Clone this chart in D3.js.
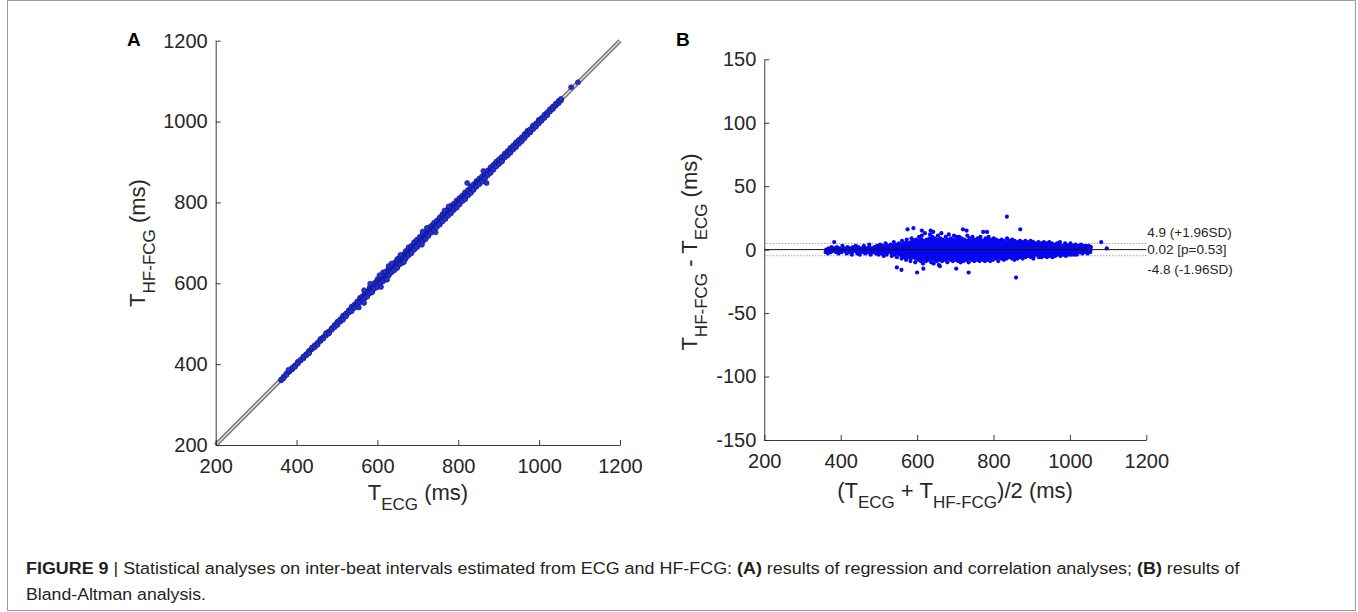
<!DOCTYPE html>
<html><head><meta charset="utf-8">
<script src="https://cdn.jsdelivr.net/npm/d3@7"></script>
<style>body{margin:0;background:#fff}svg{display:block}</style>
</head><body><svg id="c" width="1358" height="612"></svg>
<script>
// ---- data ----
const axisTicks = [200, 400, 600, 800, 1000, 1200];
const diffTicks = [-150, -100, -50, 0, 50, 100, 150];
const identityLine = [200, 1200];
const meanDiff = 0.02, upperLoA = 4.9, lowerLoA = -4.8;
const loaLabels = ["4.9 (+1.96SD)", "0.02 [p=0.53]", "-4.8 (-1.96SD)"];
// dense part of the cloud: [ECG interval (ms), differences HF-FCG - ECG (ms)]
const cloudColumns = [
 [362,[-2,0]],[368,[-1,1,-3]],[375,[0,2,-2]],[382,[-1,1]],[389,[-2,0,2]],[396,[-1,1,-3]],
 [403,[0,3,-2]],[410,[-1,1]],[417,[-3,0,2]],[424,[-1,1,-2]],
 [431,[0,2,-2,-4]],[438,[-1,1,3]],[445,[-2,0,2,-3]],[452,[-1,1,-4]],[459,[0,2,-2,3]],
 [466,[-1,1,-3]],[473,[0,2,-2,4]],[480,[-1,1,-3,-4]],[487,[0,2,-2]],[494,[-1,1,3,-3]],
 [501,[0,2,-2,-4,4]],[508,[-1,1,-3,3]],[515,[0,2,-2,5,-5]],[522,[-1,1,-3,3,-4]],[529,[0,2,-2,4]],
 [536,[-1,1,-3,3,-5,6]],[543,[0,2,-2,4,-4]],[550,[-1,1,-3,3,-6,5]],[557,[0,2,-2,4,-4,7]],
 [563,[-1,1,-3,3,-5,5,-7]],[569,[0,2,-2,4,-4,6,-6,8]],[575,[-1,1,-3,3,-5,5,-8]],
 [581,[0,2,-2,4,-4,6,-6,9]],[587,[-1,1,-3,3,-5,5,-7,7,-9]],[593,[0,2,-2,4,-4,6,-6,8]],
 [600,[-1,1,-3,3,-5,5,-7,7,-10,10]],[607,[0,2,-2,4,-4,6,-6,8,-8,11]],[614,[-1,1,-3,3,-5,5,-7,7,-9,13]],
 [621,[0,2,-2,4,-4,6,-6,8,-8,-11]],[628,[-1,1,-3,3,-5,5,-7,7,-9,9,12]],[635,[0,2,-2,4,-4,6,-6,8,-8,10]],
 [642,[-1,1,-3,3,-5,5,-7,7,-10,9]],[649,[0,2,-2,4,-4,6,-6,8,-8,11,-11]],[656,[-1,1,-3,3,-5,5,-7,7,-9,9]],
 [663,[0,2,-2,4,-4,6,-6,8,-8,-12]],[670,[-1,1,-3,3,-5,5,-7,7,-9,10]],[677,[0,2,-2,4,-4,6,-6,8,-8,12]],
 [684,[-1,1,-3,3,-5,5,-7,7,-10,9]],[691,[0,2,-2,4,-4,6,-6,8,-8,11]],[698,[-1,1,-3,3,-5,5,-7,7,-9,10]],
 [705,[0,2,-2,4,-4,6,-6,8,-8,10]],[712,[-1,1,-3,3,-5,5,-7,7,-9,9]],[719,[0,2,-2,4,-4,6,-6,8,-8,-10]],
 [726,[-1,1,-3,3,-5,5,-7,7,-9,11]],[733,[0,2,-2,4,-4,6,-6,8,-8,9]],[740,[-1,1,-3,3,-5,5,-7,7,-10,10]],
 [747,[0,2,-2,4,-4,6,-6,8,-8]],[754,[-1,1,-3,3,-5,5,-7,7,-9,9]],[761,[0,2,-2,4,-4,6,-6,8,-8,10]],
 [768,[-1,1,-3,3,-5,5,-7,7,-9]],[775,[0,2,-2,4,-4,6,-6,8,-8,9]],[782,[-1,1,-3,3,-5,5,-7,7,-9,10]],
 [789,[0,2,-2,4,-4,6,-6,8,-8]],[796,[-1,1,-3,3,-5,5,-7,7,-9,9]],
 [803,[0,2,-2,4,-4,6,-6,8,-8]],[810,[-1,1,-3,3,-5,5,-7,7]],[817,[0,2,-2,4,-4,6,-6,8,-9]],
 [824,[-1,1,-3,3,-5,5,-7,7]],[831,[0,2,-2,4,-4,6,-6,9,-8]],[838,[-1,1,-3,3,-5,5,-7,7]],
 [845,[0,2,-2,4,-4,6,-6,8]],[852,[-1,1,-3,3,-5,5,-7,7]],[859,[0,2,-2,4,-4,6,-6,-8]],
 [866,[-1,1,-3,3,-5,5,-7,7]],[873,[0,2,-2,4,-4,6,-6]],
 [880,[-1,1,-3,3,-5,5,-7,7]],[887,[0,2,-2,4,-4,6,-6]],[894,[-1,1,-3,3,-5,5,7]],[901,[0,2,-2,4,-4,6,-6]],
 [908,[-1,1,-3,3,-5,5,-7]],[915,[0,2,-2,4,-4,6]],[922,[-1,1,-3,3,-5,5,-6]],[929,[0,2,-2,4,-4,6,-6]],
 [936,[-1,1,-3,3,-5,5]],[943,[0,2,-2,4,-4,6,-6]],[950,[-1,1,-3,3,-5,5]],[957,[0,2,-2,4,-4,-6]],
 [964,[-1,1,-3,3,-5,5]],[971,[0,2,-2,4,-4,6]],[978,[-1,1,-3,3,-5]],[985,[0,2,-2,4,-4,5]],
 [992,[-1,1,-3,3,-5]],[999,[0,2,-2,4,-4,5]],[1006,[-1,1,-3,3,-4]],[1013,[0,2,-2,4,-4]],
 [1020,[-1,1,-3,3,-4]],[1027,[0,2,-2,4]],[1034,[-1,1,-3,3]],[1041,[0,2,-2,3]],[1048,[-1,1,-3,3]],[1054,[0,-2,2]]
];
// isolated beats: [ECG interval (ms), difference (ms)]
const outlierBeats = [
 [380,6],[554,-14],[567,-16],[567,16],[582,17],[605,15],[609,-18],[624,-15],[628,15],[635,14],
 [657,13],[666,-13],[710,-15],[712,16],[722,15],[744,-18],[766,14],[776,14],[822,26],[862,16],
 [870,-22],[1079,6],[1096,1]
];

// ---- build ----
const beats = [];
cloudColumns.forEach(([e, ds]) => ds.forEach(d => beats.push({ecg: e, diff: d})));
outlierBeats.forEach(([e, d]) => beats.push({ecg: e, diff: d}));

const svg = d3.select("#c");
const FONT = "'Liberation Sans', Arial, Helvetica, sans-serif";
const AX = "#262626";
const fmt = d => String(d);

svg.append("rect").attr("x", 7.5).attr("y", 0.5).attr("width", 1348).attr("height", 610)
  .attr("fill", "none").attr("stroke", "#9a9a9a").attr("stroke-width", 1);

// Panel A scales
const xA = d3.scaleLinear().domain([200, 1200]).range([215.7, 620]);
const yA = d3.scaleLinear().domain([200, 1200]).range([445, 40.7]);
// Panel B scales
const xB = d3.scaleLinear().domain([200, 1200]).range([764.3, 1146.3]);
const yB = d3.scaleLinear().domain([-150, 150]).range([440, 59.3]);

function styleAxis(g) {
  g.selectAll("path.domain").attr("stroke", AX).attr("stroke-width", 0.9);
  g.selectAll(".tick line").attr("stroke", AX).attr("stroke-width", 0.9);
  g.selectAll(".tick text").attr("fill", AX).attr("font-family", FONT).attr("font-size", 20);
}

// ---- Panel A ----
const gA = svg.append("g");
const lineA = d3.line().x(v => xA(v)).y(v => yA(v));
gA.append("path").attr("d", lineA(identityLine)).attr("stroke", "#777").attr("stroke-width", 4.4).attr("fill", "none");
gA.append("path").attr("d", lineA(identityLine)).attr("stroke", "#d8d8d8").attr("stroke-width", 1.6).attr("fill", "none");

gA.append("g").selectAll("circle").data(beats).join("circle")
  .attr("cx", d => xA(d.ecg)).attr("cy", d => yA(d.ecg + d.diff)).attr("r", 2.5)
  .attr("fill", "#2233cc").attr("stroke", "#12128e").attr("stroke-width", 0.6);

gA.append("g").attr("transform", "translate(0,445)")
  .call(d3.axisBottom(xA).tickValues(axisTicks).tickFormat(fmt).tickSizeInner(-5).tickSizeOuter(0).tickPadding(14))
  .call(styleAxis);
gA.append("g").attr("transform", "translate(215.7,0)")
  .call(d3.axisLeft(yA).tickValues(axisTicks).tickFormat(fmt).tickSizeInner(-5).tickSizeOuter(0).tickPadding(8))
  .call(styleAxis);

// ---- Panel B ----
const gB = svg.append("g");
gB.append("line").attr("x1", xB(200)).attr("x2", xB(1200)).attr("y1", yB(upperLoA)).attr("y2", yB(upperLoA))
  .attr("stroke", "#777").attr("stroke-width", 1).attr("stroke-dasharray", "1,2");
gB.append("line").attr("x1", xB(200)).attr("x2", xB(1200)).attr("y1", yB(lowerLoA)).attr("y2", yB(lowerLoA))
  .attr("stroke", "#777").attr("stroke-width", 1).attr("stroke-dasharray", "1,2");

gB.append("g").selectAll("circle").data(beats).join("circle")
  .attr("cx", d => xB(d.ecg + d.diff / 2)).attr("cy", d => yB(d.diff)).attr("r", 2.1)
  .attr("fill", "#0606f0");

gB.append("line").attr("x1", xB(200)).attr("x2", xB(1200)).attr("y1", yB(meanDiff)).attr("y2", yB(meanDiff))
  .attr("stroke", "#111").attr("stroke-width", 1);

gB.append("g").attr("transform", "translate(0,440)")
  .call(d3.axisBottom(xB).tickValues(axisTicks).tickFormat(fmt).tickSizeInner(-5).tickSizeOuter(0).tickPadding(14))
  .call(styleAxis);
gB.append("g").attr("transform", "translate(764.3,0)")
  .call(d3.axisLeft(yB).tickValues(diffTicks).tickFormat(fmt).tickSizeInner(-5).tickSizeOuter(0).tickPadding(8))
  .call(styleAxis);

[upperLoA, meanDiff, lowerLoA].forEach((v, i) => {
  const yy = [yB(upperLoA) - 11.5, yB(meanDiff), yB(lowerLoA) + 13.5][i];
  gB.append("text").attr("x", xB(1200) + 1).attr("y", yy).attr("dy", "0.35em")
    .attr("font-family", FONT).attr("font-size", 13.5).attr("fill", AX).text(loaLabels[i]);
});

// ---- axis labels ----
const SUB = 17, SHIFT = 10;
function subLabel(g, parts, attrs) {
  const t = g.append("text").attr("font-family", FONT).attr("fill", AX).attr("text-anchor", "middle");
  Object.entries(attrs).forEach(([k, v]) => t.attr(k, v));
  let shift = 0;
  parts.forEach(([txt, sub]) => {
    const ts = t.append("tspan").text(txt);
    if (sub) { ts.attr("font-size", SUB); if (shift === 0) { ts.attr("dy", SHIFT); shift = SHIFT; } }
    else if (shift !== 0) { ts.attr("dy", -shift); shift = 0; }
  });
  return t;
}
subLabel(svg, [["T"], ["ECG", true], [" (ms)"]], {x: 418, y: 500, "font-size": 22});
subLabel(svg, [["(T"], ["ECG", true], [" + T"], ["HF-FCG", true], [")/2 (ms)"]], {x: 955, y: 498, "font-size": 22});
subLabel(svg, [["T"], ["HF-FCG", true], [" (ms)"]], {transform: "translate(145,243) rotate(-90)", "font-size": 22});
subLabel(svg, [["T"], ["HF-FCG", true], [" - T"], ["ECG", true], [" (ms)"]], {transform: "translate(697,252) rotate(-90)", "font-size": 22});

svg.append("text").attr("x", 127).attr("y", 46).attr("font-family", FONT).attr("font-weight", "bold")
  .attr("font-size", 19).attr("fill", "#000").text("A");
svg.append("text").attr("x", 676).attr("y", 46).attr("font-family", FONT).attr("font-weight", "bold")
  .attr("font-size", 19).attr("fill", "#000").text("B");

// ---- caption ----
const CAP = "'Liberation Sans Narrow', 'Arial Narrow', 'Liberation Sans', Arial, sans-serif";
function caption(parts, x, y, targetW) {
  const t = svg.append("text").attr("font-family", CAP).attr("font-size", 17).attr("fill", "#231f20");
  parts.forEach(([s, b]) => t.append("tspan").attr("font-weight", b ? "bold" : "normal").text(s));
  const w = t.node().getComputedTextLength();
  t.attr("transform", `translate(${x},${y}) scale(${targetW / w},1)`);
}
caption([["FIGURE 9", true], [" | Statistical analyses on inter-beat intervals estimated from ECG and HF-FCG: "], ["(A)", true],
  [" results of regression and correlation analyses; "], ["(B)", true], [" results of"]], 26, 574, 1214);
caption([["Bland-Altman analysis."]], 26, 600, 180);
</script></body></html>
